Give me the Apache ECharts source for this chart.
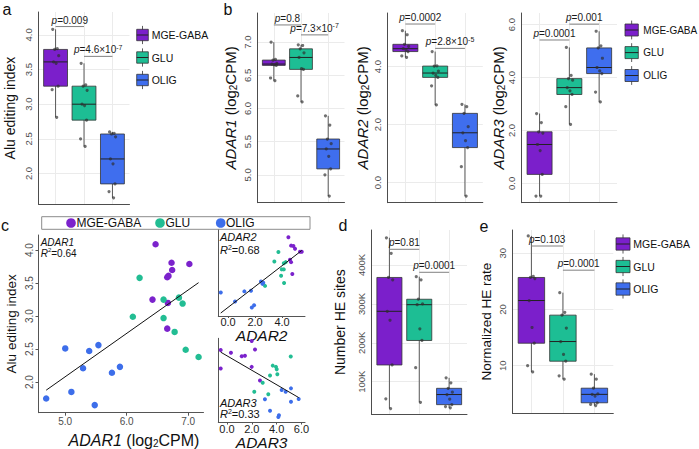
<!DOCTYPE html>
<html><head><meta charset="utf-8">
<script src="https://cdn.jsdelivr.net/npm/echarts@6/dist/echarts.min.js"></script>
<style>html,body{margin:0;padding:0;background:#fff}#c{width:699px;height:449px}</style>
</head><body><div id="c"></div>
<script>
// ---------------- data ----------------
const groups = ['MGE-GABA', 'GLU', 'OLIG'];

// a: Alu editing index
const aluMGE  = [4.08, 3.80, 3.79, 3.70, 3.61, 3.59, 3.26, 3.21, 2.81];
const aluGLU  = [3.59, 3.28, 3.26, 3.20, 3.00, 2.98, 2.77, 2.50, 2.39];
const aluOLIG = [2.60, 2.58, 2.57, 2.53, 2.21, 2.14, 1.85, 1.74, 1.65];
// b: ADAR expression (log2CPM)
const adar1MGE  = [7.00, 6.74, 6.73, 6.68, 6.67, 6.66, 6.65, 6.46, 6.42];
const adar1GLU  = [6.96, 6.95, 6.90, 6.84, 6.77, 6.60, 6.59, 6.19, 6.10];
const adar1OLIG = [5.89, 5.75, 5.54, 5.47, 5.39, 5.28, 5.09, 5.00, 4.68];
const adar2MGE  = [5.24, 5.10, 4.77, 4.70, 4.62, 4.58, 4.52, 4.37, 4.32];
const adar2GLU  = [4.52, 4.03, 4.02, 3.85, 3.78, 3.70, 3.63, 3.34, 2.68];
const adar2OLIG = [2.70, 2.62, 2.39, 1.93, 1.72, 1.45, 1.21, 0.55, -0.46];
const adar3MGE  = [2.64, 2.30, 1.95, 1.90, 1.47, 1.24, 0.34, -0.48, -0.48];
const adar3GLU  = [5.14, 4.08, 3.96, 3.90, 3.62, 3.50, 3.36, 2.90, 2.23];
const adar3OLIG = [5.75, 5.20, 5.12, 4.73, 4.38, 4.25, 4.15, 3.45, 3.08];
// d: number of HE sites
const heMGE  = [470000, 430000, 368000, 362000, 281000, 258000, 143000, 56000, 31000];
const heGLU  = [370000, 362000, 312000, 300000, 298000, 236000, 206000, 136000, 47000];
const heOLIG = [110000, 97000, 83000, 73000, 67000, 55000, 41000, 36000, 33000];
// e: normalized HE rate
const rateMGE  = [33.1, 25.9, 25.7, 25.5, 21.6, 16.8, 14.0, 10.0, 8.9];
const rateGLU  = [23.0, 19.5, 19.0, 16.7, 14.3, 12.0, 10.8, 8.2, 7.6];
const rateOLIG = [8.5, 7.6, 6.0, 5.0, 4.9, 4.6, 3.4, 3.1, 2.9];
// c: scatter [expression, Alu editing index]
const cADAR1MGE  = [[6.47,4.09],[6.73,3.81],[7.02,3.79],[6.74,3.70],[6.66,3.59],[6.68,3.61],[6.42,3.25],[6.67,3.20],[6.66,2.81]];
const cADAR1GLU  = [[6.21,3.58],[6.60,3.25],[6.85,3.28],[6.91,3.19],[6.10,2.99],[6.60,2.97],[6.78,2.76],[6.96,2.49],[7.17,2.38]];
const cADAR1OLIG = [[4.69,1.75],[5.00,2.51],[5.10,1.85],[5.29,2.21],[5.39,2.47],[5.48,1.65],[5.54,2.56],[5.76,2.14],[5.89,2.23]];
const cADAR2MGE  = [[4.47,4.08],[4.67,3.79],[4.84,3.78],[4.96,3.68],[5.33,3.58],[5.46,3.58],[4.67,3.22],[4.59,3.30],[4.76,2.81]];
const cADAR2GLU  = [[3.73,3.57],[3.43,3.24],[4.13,3.18],[4.27,3.22],[3.98,2.97],[4.13,2.97],[3.93,2.75],[4.15,2.50],[2.74,2.40]];
const cADAR2OLIG = [[-0.54,2.17],[0.52,1.86],[1.21,2.21],[1.70,2.23],[2.44,2.55],[2.61,2.51],[2.55,2.47],[1.76,1.65],[1.93,1.73]];
const cADAR3MGE  = [[1.99,4.08],[-0.51,3.79],[2.26,3.81],[0.32,3.70],[1.19,3.59],[1.45,3.61],[-0.51,3.20],[1.99,3.25],[2.66,2.81]];
const cADAR3GLU  = [[5.14,3.58],[3.69,3.29],[3.95,3.25],[4.01,3.17],[4.06,3.01],[3.47,2.97],[2.88,2.74],[2.20,2.45],[3.33,2.37]];
const cADAR3OLIG = [[4.41,2.51],[4.73,2.45],[5.16,2.56],[5.78,2.22],[5.16,2.13],[3.06,2.21],[3.47,1.84],[4.19,1.70],[4.14,1.64]];
const r2Labels = ['0.64', '0.68', '0.33'];
// significance brackets [from group, to group, height] and p-values
const pA  = [[1, 2, 4.12], [2, 3, 3.69]];      const pAtxt  = ['0.009', '4.6×10^-7'];
const pB1 = [[1, 2, 7.26], [2, 3, 7.11]];      const pB1txt = ['0.8', '7.3×10^-7'];
const pB2 = [[1, 2, 5.47], [2, 3, 4.63]];      const pB2txt = ['0.0002', '2.8×10^-5'];
const pB3 = [[1, 2, 5.42], [2, 3, 6.02]];      const pB3txt = ['0.0001', '0.001'];
const pD  = [[1, 2, 440400], [2, 3, 381300]];  const pDtxt  = ['0.81', '0.0001'];
const pE  = [[1, 2, 31.3], [2, 3, 27.0]];      const pEtxt  = ['0.103', '0.0001'];

// ---------------- styles ----------------
const FONT = '"Liberation Sans", Arial, Helvetica, sans-serif';
const BOX_COL = ['#7B1FCB', '#1DBE94', '#3F6EEE'];
const PT_COL  = ['#7B22CC', '#22BD93', '#3D6EEA'];
const AX = '#4d4d4d', GRIDC = '#ebebeb', LBL = '#4d4d4d';
const BOXW = 0.84;
const JIT = [-0.10, 0.06, -0.03, 0.11, -0.07, 0.02, 0.09, -0.12, 0.04];

function q7(arr, p) {
  const s = [...arr].sort((a, b) => a - b);
  const h = (s.length - 1) * p, lo = Math.floor(h);
  const hi = Math.min(lo + 1, s.length - 1);
  return s[lo] + (h - lo) * (s[hi] - s[lo]);
}
function stats(arr, i) { return [i + 1, Math.min(...arr), q7(arr, .25), q7(arr, .5), q7(arr, .75), Math.max(...arr)]; }

function renderBox(params, api) {
  const x = api.value(0), mn = api.value(1), q1 = api.value(2), md = api.value(3), q3 = api.value(4), mx = api.value(5);
  const h = BOXW / 2;
  const pMin = api.coord([x, mn]), pMax = api.coord([x, mx]);
  const pTL = api.coord([x - h, q3]), pBR = api.coord([x + h, q1]);
  const pML = api.coord([x - h, md]), pMR = api.coord([x + h, md]);
  return { type: 'group', children: [
    { type: 'line', shape: { x1: pMin[0], y1: pMin[1], x2: pMax[0], y2: pMax[1] }, style: { stroke: '#333', lineWidth: 0.8 } },
    { type: 'rect', shape: { x: pTL[0], y: pTL[1], width: pBR[0] - pTL[0], height: pBR[1] - pTL[1] }, style: { fill: BOX_COL[x - 1], stroke: '#333', lineWidth: 0.8 } },
    { type: 'line', shape: { x1: pML[0], y1: pML[1], x2: pMR[0], y2: pMR[1] }, style: { stroke: '#222', lineWidth: 1 } }
  ]};
}
const pRich = {
  i: { fontStyle: 'italic', fontSize: 10, fontFamily: FONT, lineHeight: 12, fill: '#1a1a1a' },
  sup: { fontSize: 7, fontFamily: FONT, lineHeight: 7, verticalAlign: 'top', fill: '#1a1a1a' }
};
function pLabel(s) { return '{i|p}=' + s.replace(/\^(-?\d+)/, '{sup|$1}'); }
function bracketRender(txt) {
  return function (params, api) {
    const p1 = api.coord([api.value(0), api.value(2)]);
    const p2 = api.coord([api.value(1), api.value(2)]);
    return { type: 'group', children: [
      { type: 'line', shape: { x1: p1[0], y1: p1[1], x2: p2[0], y2: p2[1] }, style: { stroke: '#808080', lineWidth: 1 } },
      { type: 'text', x: (p1[0] + p2[0]) / 2, y: p1[1] - 0.5, style: { text: pLabel(txt[params.dataIndex]), align: 'center', verticalAlign: 'bottom', fontSize: 10, fontFamily: FONT, fill: '#1a1a1a', lineHeight: 12, rich: pRich } }
    ]};
  };
}
const nameRich = fs => ({
  it: { fontStyle: 'italic', fontSize: fs, fontFamily: FONT, lineHeight: 16, color: '#111' },
  sub: { fontSize: Math.round(fs * 0.65), fontFamily: FONT, lineHeight: 8, verticalAlign: 'bottom', color: '#111' }
});
const f1 = v => v.toFixed(1);

const boxPanels = [
  { grid: [38.5, 12, 91, 192], sets: [aluMGE, aluGLU, aluOLIG], y: [1.56, 4.33], ticks: [2, 2.5, 3, 3.5, 4], fmt: f1, name: 'Alu editing index', fs: 14, gap: 20.5, br: pA, brTxt: pAtxt },
  { grid: [257.5, 13, 87, 189.7], sets: [adar1MGE, adar1GLU, adar1OLIG], y: [4.58, 7.44], ticks: [5, 5.5, 6, 6.5, 7], fmt: f1, name: '{it|ADAR1} (log{sub|2}CPM)', fs: 15, gap: 19.5, br: pB1, brTxt: pB1txt },
  { grid: [387.5, 13, 95.3, 189.7], sets: [adar2MGE, adar2GLU, adar2OLIG], y: [-0.69, 5.85], ticks: [0, 2, 4], fmt: f1, name: '{it|ADAR2} (log{sub|2}CPM)', fs: 15, gap: 17.5, br: pB2, brTxt: pB2txt },
  { grid: [521.7, 13, 95.3, 189.7], sets: [adar3MGE, adar3GLU, adar3OLIG], y: [-0.73, 6.44], ticks: [0, 2, 4, 6], fmt: f1, name: '{it|ADAR3} (log{sub|2}CPM)', fs: 15, gap: 15.4, br: pB3, brTxt: pB3txt },
  { grid: [371.5, 230, 95.5, 184.3], sets: [heMGE, heGLU, heOLIG], y: [16200, 490000], ticks: [100000, 200000, 300000, 400000], fmt: v => (v / 1000) + 'K', name: 'Number HE sites', fs: 14, gap: 23.5, br: pD, brTxt: pDtxt },
  { grid: [512.5, 230, 100.8, 183.3], sets: [rateMGE, rateGLU, rateOLIG], y: [1.53, 34.15], ticks: [10, 20, 30], fmt: v => String(v), name: 'Normalized HE rate', fs: 13.5, gap: 17.8, br: pE, brTxt: pEtxt }
];

const grids = [], xAxes = [], yAxes = [], series = [];
function addGrid(g) { grids.push({ left: g[0], top: g[1], width: g[2], height: g[3], containLabel: false, outerBoundsMode: 'none' }); return grids.length - 1; }

boxPanels.forEach(P => {
  const gi = addGrid(P.grid);
  xAxes.push({ gridIndex: gi, type: 'value', min: 0.4, max: 3.6,
    axisLine: { show: true, onZero: false, lineStyle: { color: AX, width: 1 } },
    axisTick: { show: false, customValues: [1, 2, 3] }, axisLabel: { show: false },
    splitLine: { show: true, lineStyle: { color: GRIDC, width: 1 } } });
  yAxes.push({ gridIndex: gi, type: 'value', min: P.y[0], max: P.y[1],
    axisLine: { show: true, onZero: false, lineStyle: { color: AX, width: 1 } },
    axisTick: { show: false, customValues: P.ticks },
    axisLabel: { show: true, customValues: P.ticks, rotate: 90, margin: 5.5, fontSize: 9.5, color: LBL, fontFamily: FONT, formatter: P.fmt },
    splitLine: { show: true, lineStyle: { color: GRIDC, width: 1 } },
    name: P.name, nameLocation: 'middle', nameRotate: 90, nameGap: P.gap, nameMoveOverlap: false,
    nameTextStyle: { fontSize: P.fs, fontFamily: FONT, color: '#111', lineHeight: 16, rich: nameRich(P.fs) } });
  series.push({ type: 'custom', xAxisIndex: gi, yAxisIndex: gi, renderItem: renderBox, silent: true, z: 2,
    encode: { x: 0, y: [1, 2, 3, 4, 5] }, data: P.sets.map((s, i) => stats(s, i)) });
  const pts = [];
  P.sets.forEach((s, i) => s.forEach((v, j) => pts.push([i + 1 + JIT[j % JIT.length], v])));
  series.push({ type: 'scatter', xAxisIndex: gi, yAxisIndex: gi, data: pts, symbolSize: 3.2, silent: true, z: 3,
    itemStyle: { color: 'rgba(45,45,45,0.85)' } });
  series.push({ type: 'custom', xAxisIndex: gi, yAxisIndex: gi, renderItem: bracketRender(P.brTxt), silent: true, z: 4,
    encode: { x: [0, 1], y: 2 }, data: P.br });
});

function fitLine(sets) {
  const pts = [].concat(...sets), n = pts.length;
  const mx = pts.reduce((a, p) => a + p[0], 0) / n, my = pts.reduce((a, p) => a + p[1], 0) / n;
  let sxy = 0, sxx = 0;
  pts.forEach(p => { sxy += (p[0] - mx) * (p[1] - my); sxx += (p[0] - mx) ** 2; });
  const b = sxy / sxx, a = my - b * mx;
  const xs = pts.map(p => p[0]), x0 = Math.min(...xs), x1 = Math.max(...xs);
  return [[x0, a + b * x0], [x1, a + b * x1]];
}

const scatPanels = [
  { grid: [38.5, 235, 165, 177.7], sets: [cADAR1MGE, cADAR1GLU, cADAR1OLIG], x: [4.565, 7.25], y: [1.535, 4.23], xt: [5, 6, 7], yt: [2, 2.5, 3, 3.5, 4], main: true, size: 6.5 },
  { grid: [218.3, 230, 86.7, 86], sets: [cADAR2MGE, cADAR2GLU, cADAR2OLIG], x: [-0.72, 5.70], y: [1.36, 4.33], xt: [0, 2, 4], yt: [], name: 'ADAR2', gap: 11.5, size: 4 },
  { grid: [218.3, 338.3, 86.7, 84.2], sets: [cADAR3MGE, cADAR3GLU, cADAR3OLIG], x: [-0.70, 6.29], y: [1.464, 4.167], xt: [0, 2, 4, 6], yt: [], name: 'ADAR3', gap: 11.5, size: 4 }
];
scatPanels.forEach(P => {
  const gi = addGrid(P.grid);
  const axl = { show: true, onZero: false, lineStyle: { color: '#555', width: 1 } };
  xAxes.push({ gridIndex: gi, type: 'value', min: P.x[0], max: P.x[1], axisLine: axl,
    axisTick: { show: true, length: P.main ? 3 : 2, customValues: P.xt, lineStyle: { color: '#555' } },
    axisLabel: P.main ? { customValues: P.xt, margin: 4, fontSize: 10, color: LBL, fontFamily: FONT, formatter: f1 }
                      : { customValues: P.xt, margin: 0.5, fontSize: 11, color: '#1a1a1a', fontFamily: FONT, formatter: f1 },
    splitLine: { show: false },
    name: P.main ? '{it|ADAR1} (log{sub|2}CPM)' : '{it|' + P.name + '}', nameLocation: 'middle',
    nameGap: P.main ? 19.3 : P.gap, nameMoveOverlap: false,
    nameTextStyle: { fontSize: P.main ? 16 : 15.5, fontFamily: FONT, color: '#111', lineHeight: 16, rich: nameRich(P.main ? 16 : 15.5), padding: P.main ? [0, 0, 0, 26] : 0 } });
  yAxes.push(Object.assign({ gridIndex: gi, type: 'value', min: P.y[0], max: P.y[1], axisLine: axl,
    axisTick: { show: P.main, length: 3, customValues: P.main ? P.yt : [2], lineStyle: { color: '#555' } },
    axisLabel: { show: P.main, customValues: P.main ? P.yt : [2], rotate: 90, margin: 4, fontSize: 10, color: LBL, fontFamily: FONT, formatter: f1 },
    splitLine: { show: false } },
    P.main ? { name: 'Alu editing index', nameLocation: 'middle', nameRotate: 90, nameGap: 18.8, nameMoveOverlap: false,
      nameTextStyle: { fontSize: 13.5, fontFamily: FONT, color: '#111', lineHeight: 16 } } : {}));
  P.sets.forEach((s, i) => series.push({ type: 'scatter', name: groups[i], xAxisIndex: gi, yAxisIndex: gi, data: s,
    symbolSize: P.size, silent: true, z: 3, itemStyle: { color: PT_COL[i], opacity: 1 } }));
  series.push({ type: 'line', xAxisIndex: gi, yAxisIndex: gi, data: fitLine(P.sets), showSymbol: false, silent: true, z: 4,
    lineStyle: { color: '#111', width: 1 } });
});

// ---------------- graphic: letters, legends, annotations ----------------
const graphic = [];
function T(x, y, text, o = {}) {
  const al = o.align || 'left', va = o.va || 'middle';
  graphic.push({ type: 'text', x, y, silent: true, z: 10, style: Object.assign({ text, fontSize: o.fs || 10, fontFamily: FONT,
    fill: o.fill || '#111', align: al, textAlign: al, verticalAlign: va, textVerticalAlign: va,
    fontStyle: o.italic ? 'italic' : 'normal' }, o.rich ? { rich: o.rich } : {}) });
}
[['a', 7, 9], ['b', 228, 9], ['c', 5, 225], ['d', 343, 225], ['e', 484, 226]].forEach(([t, x, y]) => T(x, y, t, { fs: 16, align: 'center' }));

function boxLegend(x, w, h, centers, tx, fs) {
  centers.forEach((cy, i) => {
    graphic.push({ type: 'line', silent: true, shape: { x1: x + w / 2, y1: cy - h / 2 - 3.4, x2: x + w / 2, y2: cy + h / 2 + 3.4 }, style: { stroke: '#333', lineWidth: 0.8 } });
    graphic.push({ type: 'rect', silent: true, shape: { x, y: cy - h / 2, width: w, height: h }, style: { fill: BOX_COL[i], stroke: '#333', lineWidth: 0.8 } });
    graphic.push({ type: 'line', silent: true, shape: { x1: x, y1: cy, x2: x + w, y2: cy }, style: { stroke: '#222', lineWidth: 1 } });
    T(tx, cy, groups[i], { fs });
  });
}
boxLegend(136.7, 11.6, 11.4, [35, 57.5, 80], 151.7, 10.5);
boxLegend(625, 13.3, 12, [30, 52.6, 75.5], 643.3, 10);
boxLegend(616, 14, 12.3, [244, 266.5, 289], 633.3, 10.5);

// c legend
graphic.push({ type: 'rect', silent: true, shape: { x: 41.7, y: 216.7, width: 268.3, height: 12.6 }, style: { fill: '#fff', stroke: '#8c8c8c', lineWidth: 1 } });
[[71, 76.5], [160, 165.5], [220.7, 226]].forEach(([cx, tx], i) => {
  graphic.push({ type: 'circle', silent: true, shape: { cx, cy: 223, r: 4.8 }, style: { fill: PT_COL[i] } });
  T(tx, 223.3, groups[i], { fs: 12 });
});
// R^2 annotations
const r2Rich = fs => ({ i: { fontStyle: 'italic', fontSize: fs, fontFamily: FONT, lineHeight: 12, fill: '#111' },
  sup: { fontSize: Math.round(fs * 0.6), fontFamily: FONT, lineHeight: 6, verticalAlign: 'top', fill: '#111' } });
[[40.7, 242.3, 253.3, 'ADAR1', 10], [220, 237.3, 249.7, 'ADAR2', 11], [220, 403.3, 414, 'ADAR3', 11]].forEach(([x, y1, y2, g, fs], k) => {
  T(x, y1, g, { fs, italic: true });
  T(x, y2, '{i|R}{sup|2}=' + r2Labels[k], { fs, rich: r2Rich(fs) });
});

const chart = echarts.init(document.getElementById('c'), null, { renderer: 'svg', width: 699, height: 449 });
chart.setOption({
  animation: false, backgroundColor: '#fff',
  textStyle: { fontFamily: FONT },
  grid: grids, xAxis: xAxes, yAxis: yAxes, series, graphic
});
</script>
</body></html>
